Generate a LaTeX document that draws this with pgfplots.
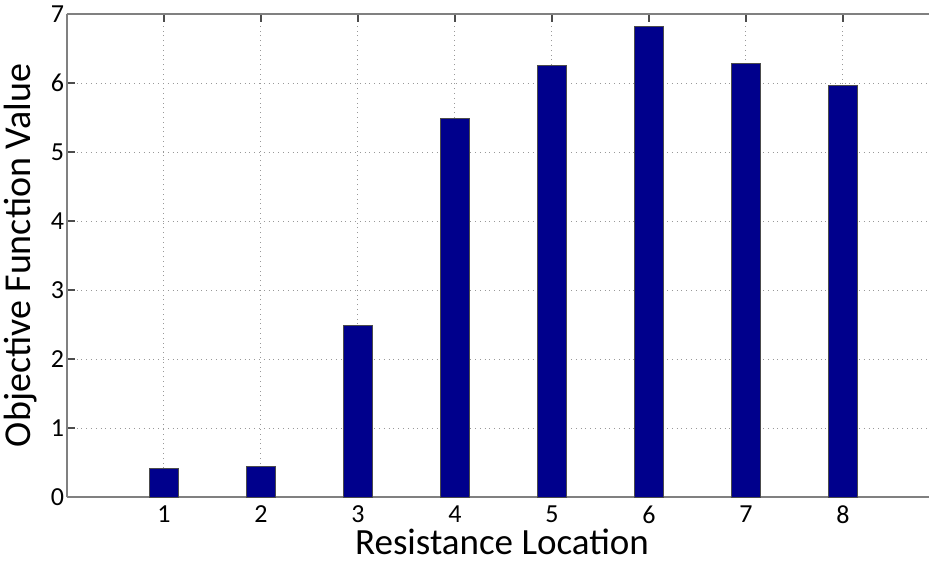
\documentclass[border=0pt]{standalone}
\usepackage{pgfplots}
\pgfplotsset{compat=1.18}
\usepackage{fontspec}
\setmainfont{Carlito}
\definecolor{barblue}{RGB}{0,0,140}
\definecolor{axgray}{RGB}{128,128,128}
\begin{document}
\begin{tikzpicture}
\path[use as bounding box] (-33.5pt,-33pt) rectangle (431pt,248.5pt);
\begin{axis}[
  at={(0,0)}, anchor=south west, scale only axis,
  width=431pt, height=241.5pt,
  xmin=0, xmax=8.887, ymin=0, ymax=7,
  axis x line*=box, axis y line*=left,
  x axis line style={-, draw=axgray, line width=0.8pt},
  y axis line style={-, draw=axgray, line width=0.8pt},
  tick align=inside,
  major tick length=4pt,
  tick style={draw=black!70, line width=0.6pt},
  xtick={1,...,8}, ytick={0,...,7},
  grid=major,
  grid style={dotted, draw=gray!80, line width=0.5pt},
  /pgf/number format/assume math mode=true,
  tick label style={font=\fontsize{13}{15}\selectfont},
  yticklabel style={xshift=2pt},
  xticklabel style={yshift=-1pt},
  xlabel={Resistance Location},
  ylabel={Objective Function Value},
  every axis x label/.style={at={(axis description cs:0.5,0)}, xshift=2pt, anchor=center, yshift=-22.5pt, font=\fontsize{18.5}{22}\selectfont},
  every axis y label/.style={at={(axis description cs:0,0.5)}, xshift=-23pt, rotate=90, anchor=center, font=\fontsize{19}{22}\selectfont},
]
\addplot[ybar, bar width=0.306, fill=barblue, draw=black!70, line width=0.4pt] coordinates {
(1,0.41) (2,0.44) (3,2.49) (4,5.48) (5,6.26) (6,6.82) (7,6.29) (8,5.96)
};
\end{axis}
\end{tikzpicture}
\end{document}
